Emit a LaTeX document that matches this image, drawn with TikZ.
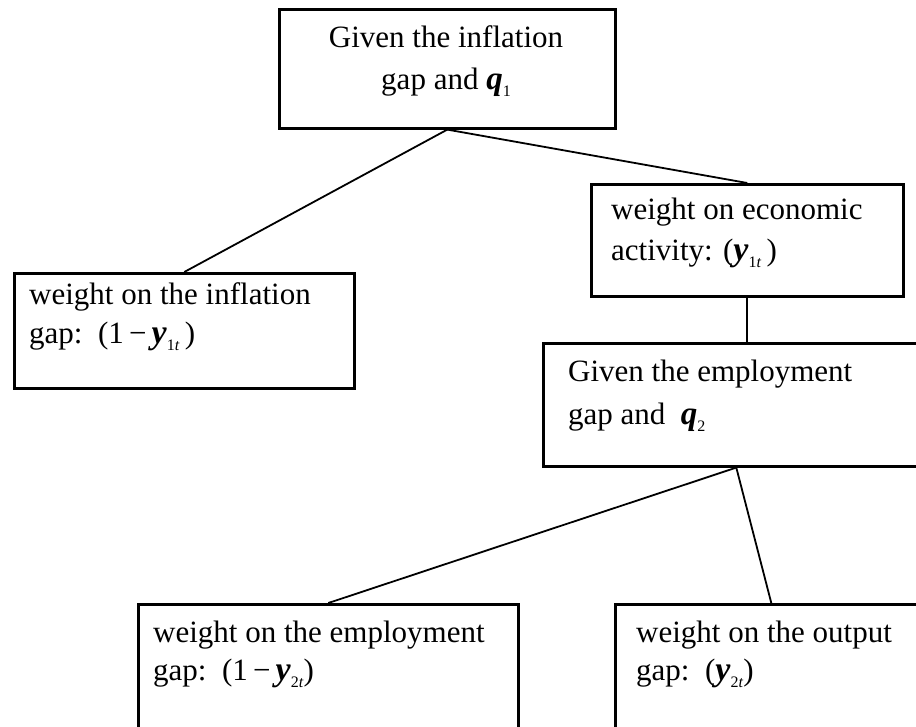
\documentclass[tikz,border=0pt]{standalone}
\usepackage{fontspec}
\setmainfont{Liberation Serif}
\usetikzlibrary{calc}
\newcommand{\subsc}[1]{\raisebox{-0.25em}{\fontsize{16}{16}\selectfont #1}}
\newcommand{\bq}{{\fontsize{33}{36}\selectfont\textbf{\textit{q}}}}
\newcommand{\by}{{\fontsize{34}{36}\selectfont\textbf{\textit{y}}}}
\begin{document}
\begin{tikzpicture}[x=1pt,y=-1pt,
  box/.style={draw,line width=2.6pt,inner sep=0pt,anchor=north west},
  txt/.style={anchor=base west,inner sep=0pt,font=\fontsize{31}{36}\selectfont},
  ctxt/.style={anchor=base,inner sep=0pt,font=\fontsize{31}{36}\selectfont},
  link/.style={line width=1.8pt}]
\useasboundingbox (0,0) rectangle (916,726);
\clip (0,0) rectangle (916,726);
\node[box,minimum width=336pt,minimum height=119pt] (top) at (278,8) {};
\node[box,minimum width=340pt,minimum height=115pt] (left) at (13,272) {};
\node[box,minimum width=312pt,minimum height=112pt] (econ) at (590,183) {};
\node[box,minimum width=386pt,minimum height=123pt] (emp) at (542,342) {};
\node[box,minimum width=380pt,minimum height=140pt] (bl) at (137,603) {};
\node[box,minimum width=312pt,minimum height=140pt] (br) at (614,603) {};
% texts
\node[ctxt] (t1a) at (446,47) {Given the inflation};
\node[ctxt] (t1b) at (446,89) {gap and \bq\subsc{1}};
\node[txt] (t2a) at (29,304) {weight on the inflation};
\node[txt] (t2b) at (29,343) {gap:\ \ (1\,−\,\by\subsc{1\textit{t}}\,)};
\node[txt] (t3a) at (611,219) {weight on economic};
\node[txt] (t3b) at (611,260) {activity: (\by\subsc{1\textit{t}}\,)};
\node[txt] (t4a) at (568,381) {Given the employment};
\node[txt] (t4b) at (568,424) {gap and \ \bq\subsc{2}};
\node[txt] (t5a) at (153,642) {weight on the employment};
\node[txt] (t5b) at (153,680) {gap:\ \ (1\,−\,\by\subsc{2\textit{t}})};
\node[txt] (t6a) at (636,642) {weight on the output};
\node[txt] (t6b) at (636,680) {gap:\ \ (\by\subsc{2\textit{t}})};
% connectors
\draw[link] (top.south) -- (left.north);
\draw[link] (top.south) -- (econ.north);
\draw[link] (econ.south) -- (econ.south |- emp.north);
\draw[link] (emp.south) -- (bl.north);
\draw[link] (emp.south) -- (br.north);
\end{tikzpicture}
\end{document}
